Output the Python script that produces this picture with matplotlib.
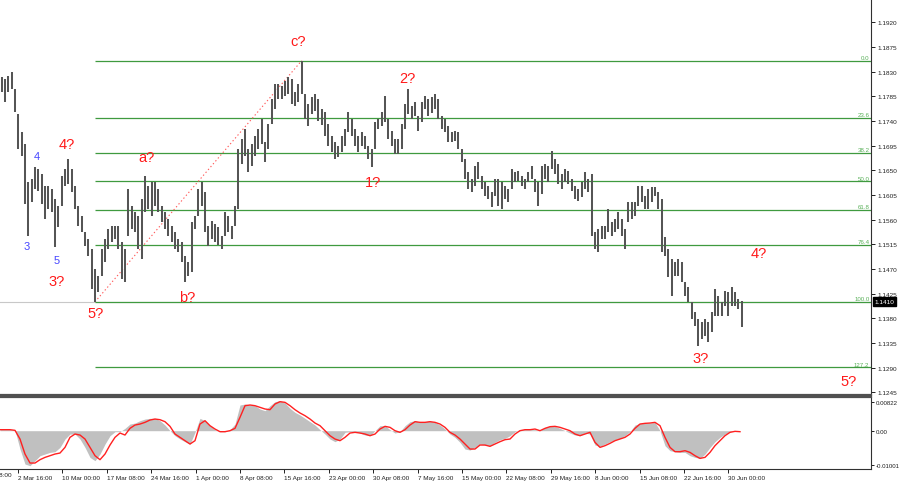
import numpy as np
import matplotlib
matplotlib.use("Agg")
import matplotlib.pyplot as plt
import matplotlib.transforms as mtransforms

plt.rcParams['font.family'] = ['Liberation Sans', 'DejaVu Sans']

# ---------------- data (EURUSD-like H4, aggregated bars) ----------------
highs = [
 1.1820, 1.1817, 1.1822, 1.1829, 1.1798, 1.1753, 1.1720, 1.1698, 1.1629, 1.1634,
 1.1656, 1.1652, 1.1643, 1.1621, 1.1621, 1.1616, 1.1598, 1.1585, 1.1640, 1.1652,
 1.1671, 1.1652, 1.1621, 1.1585, 1.1567, 1.1537, 1.1525, 1.1506, 1.1470, 1.1457,
 1.1506, 1.1525, 1.1543, 1.1548, 1.1548, 1.1548, 1.1519, 1.1506, 1.1616, 1.1585,
 1.1574, 1.1567, 1.1598, 1.1640, 1.1621, 1.1629, 1.1629, 1.1616, 1.1585, 1.1574,
 1.1561, 1.1548, 1.1537, 1.1525, 1.1519, 1.1494, 1.1483, 1.1556, 1.1567, 1.1616,
 1.1629, 1.1610, 1.1548, 1.1558, 1.1552, 1.1547, 1.1530, 1.1574, 1.1567, 1.1548,
 1.1585, 1.1689, 1.1707, 1.1725, 1.1689, 1.1698, 1.1713, 1.1725, 1.1744, 1.1702,
 1.1735, 1.1780, 1.1808, 1.1808, 1.1804, 1.1813, 1.1820, 1.1817, 1.1793, 1.1808,
 1.1850, 1.1789, 1.1771, 1.1784, 1.1789, 1.1780, 1.1762, 1.1756, 1.1735, 1.1713,
 1.1702, 1.1694, 1.1713, 1.1725, 1.1756, 1.1744, 1.1725, 1.1713, 1.1720, 1.1713,
 1.1694, 1.1689, 1.1738, 1.1744, 1.1756, 1.1786, 1.1744, 1.1722, 1.1707, 1.1707,
 1.1735, 1.1771, 1.1798, 1.1767, 1.1775, 1.1749, 1.1775, 1.1786, 1.1780, 1.1784,
 1.1789, 1.1780, 1.1749, 1.1744, 1.1731, 1.1720, 1.1722, 1.1720, 1.1689, 1.1671,
 1.1647, 1.1634, 1.1658, 1.1665, 1.1640, 1.1629, 1.1621, 1.1610, 1.1634, 1.1634,
 1.1629, 1.1621, 1.1616, 1.1652, 1.1647, 1.1649, 1.1640, 1.1634, 1.1647, 1.1658,
 1.1634, 1.1629, 1.1658, 1.1662, 1.1658, 1.1685, 1.1671, 1.1662, 1.1643, 1.1652,
 1.1649, 1.1634, 1.1621, 1.1616, 1.1629, 1.1647, 1.1634, 1.1643, 1.1537, 1.1543,
 1.1548, 1.1548, 1.1579, 1.1556, 1.1561, 1.1574, 1.1561, 1.1543, 1.1592, 1.1592,
 1.1592, 1.1621, 1.1621, 1.1603, 1.1616, 1.1620, 1.1620, 1.1610, 1.1598, 1.1528,
 1.1506, 1.1488, 1.1483, 1.1488, 1.1483, 1.1446, 1.1437, 1.1410, 1.1392, 1.1379,
 1.1373, 1.1379, 1.1373, 1.1392, 1.1434, 1.1421, 1.1410, 1.1430, 1.1428, 1.1437,
 1.1428, 1.1415, 1.1412]

lows = [
 1.1793, 1.1775, 1.1793, 1.1798, 1.1756, 1.1689, 1.1676, 1.1589, 1.1530, 1.1592,
 1.1616, 1.1612, 1.1589, 1.1561, 1.1579, 1.1574, 1.1510, 1.1547, 1.1585, 1.1621,
 1.1625, 1.1610, 1.1579, 1.1548, 1.1537, 1.1512, 1.1494, 1.1434, 1.1410, 1.1428,
 1.1457, 1.1483, 1.1506, 1.1519, 1.1525, 1.1506, 1.1452, 1.1446, 1.1530, 1.1543,
 1.1537, 1.1506, 1.1488, 1.1574, 1.1579, 1.1567, 1.1585, 1.1574, 1.1556, 1.1543,
 1.1530, 1.1519, 1.1506, 1.1501, 1.1483, 1.1446, 1.1457, 1.1464, 1.1543, 1.1567,
 1.1585, 1.1537, 1.1512, 1.1525, 1.1519, 1.1514, 1.1506, 1.1530, 1.1537, 1.1525,
 1.1548, 1.1579, 1.1662, 1.1676, 1.1647, 1.1658, 1.1676, 1.1689, 1.1698, 1.1665,
 1.1689, 1.1735, 1.1762, 1.1780, 1.1780, 1.1786, 1.1789, 1.1771, 1.1767, 1.1775,
 1.1789, 1.1744, 1.1731, 1.1753, 1.1758, 1.1740, 1.1733, 1.1713, 1.1694, 1.1683,
 1.1671, 1.1674, 1.1683, 1.1694, 1.1720, 1.1713, 1.1694, 1.1683, 1.1694, 1.1689,
 1.1671, 1.1656, 1.1689, 1.1725, 1.1731, 1.1738, 1.1707, 1.1694, 1.1680, 1.1680,
 1.1689, 1.1725, 1.1753, 1.1744, 1.1749, 1.1722, 1.1738, 1.1762, 1.1749, 1.1755,
 1.1762, 1.1744, 1.1725, 1.1720, 1.1702, 1.1702, 1.1704, 1.1689, 1.1665, 1.1634,
 1.1616, 1.1610, 1.1621, 1.1634, 1.1616, 1.1603, 1.1598, 1.1583, 1.1603, 1.1585,
 1.1579, 1.1598, 1.1592, 1.1616, 1.1629, 1.1630, 1.1621, 1.1616, 1.1629, 1.1634,
 1.1610, 1.1585, 1.1607, 1.1634, 1.1629, 1.1652, 1.1643, 1.1625, 1.1616, 1.1629,
 1.1625, 1.1612, 1.1598, 1.1594, 1.1601, 1.1616, 1.1610, 1.1530, 1.1506, 1.1501,
 1.1525, 1.1525, 1.1537, 1.1530, 1.1537, 1.1543, 1.1530, 1.1506, 1.1556, 1.1561,
 1.1567, 1.1585, 1.1592, 1.1579, 1.1579, 1.1592, 1.1603, 1.1579, 1.1501, 1.1494,
 1.1455, 1.1421, 1.1457, 1.1457, 1.1446, 1.1421, 1.1410, 1.1379, 1.1366, 1.1330,
 1.1342, 1.1348, 1.1337, 1.1355, 1.1384, 1.1384, 1.1384, 1.1402, 1.1384, 1.1402,
 1.1402, 1.1397, 1.1364]

macd_main = [
 0.00029, 0.00029, 0.00029, 0.00010, -0.00532, -0.00967, -0.01015, -0.00870, -0.00725, -0.00677,
 -0.00629, -0.00609, -0.00484, -0.00242, -0.00097, -0.00097, -0.00242, -0.00484, -0.00774, -0.00870,
 -0.00677, -0.00387, -0.00145, -0.00029, -0.00029, 0.00068, 0.00193, 0.00222, 0.00290, 0.00338,
 0.00358, 0.00358, 0.00290, 0.00164, 0.00000, -0.00145, -0.00242, -0.00319, -0.00387, -0.00048,
 0.00358, 0.00290, 0.00145, 0.00029, -0.00029, -0.00029, 0.00029, 0.00193, 0.00745, 0.00774,
 0.00745, 0.00725, 0.00629, 0.00580, 0.00725, 0.00841, 0.00870, 0.00803, 0.00648, 0.00532,
 0.00454, 0.00358, 0.00261, 0.00164, 0.00029, -0.00097, -0.00242, -0.00319, -0.00242, -0.00048,
 -0.00029, -0.00029, -0.00068, -0.00126, -0.00145, 0.00000, 0.00145, 0.00145, 0.00029, -0.00068,
 -0.00029, 0.00145, 0.00261, 0.00290, 0.00242, 0.00261, 0.00280, 0.00242, 0.00164, 0.00048,
 -0.00097, -0.00193, -0.00338, -0.00532, -0.00561, -0.00484, -0.00387, -0.00416, -0.00435, -0.00338,
 -0.00261, -0.00222, -0.00145, -0.00029, 0.00029, 0.00029, 0.00029, 0.00029, 0.00000, 0.00097,
 0.00126, 0.00126, 0.00068, 0.00000, -0.00068, -0.00126, -0.00145, -0.00068, -0.00097, -0.00416,
 -0.00454, -0.00387, -0.00319, -0.00261, -0.00222, -0.00145, -0.00029, 0.00164, 0.00213, 0.00222,
 0.00222, 0.00242, 0.00000, -0.00435, -0.00580, -0.00609, -0.00629, -0.00629, -0.00725, -0.00774,
 -0.00803, -0.00677, -0.00484, -0.00319, -0.00193, -0.00097, -0.00029, 0.00000, 0.00000]

macd_signal = [
 0.00029, 0.00029, 0.00029, 0.00010, -0.00242, -0.00677, -0.00938, -0.00938, -0.00841, -0.00774,
 -0.00725, -0.00677, -0.00648, -0.00484, -0.00193, -0.00097, -0.00126, -0.00242, -0.00484, -0.00725,
 -0.00841, -0.00677, -0.00416, -0.00193, -0.00068, -0.00126, 0.00068, 0.00164, 0.00193, 0.00242,
 0.00309, 0.00338, 0.00319, 0.00261, 0.00126, -0.00097, -0.00193, -0.00290, -0.00387, -0.00290,
 0.00193, 0.00290, 0.00145, 0.00048, -0.00029, -0.00029, 0.00000, 0.00068, 0.00387, 0.00725,
 0.00745, 0.00725, 0.00677, 0.00629, 0.00609, 0.00774, 0.00841, 0.00822, 0.00725, 0.00609,
 0.00513, 0.00435, 0.00338, 0.00222, 0.00145, 0.00000, -0.00145, -0.00242, -0.00290, -0.00193,
 -0.00068, -0.00048, -0.00068, -0.00097, -0.00145, -0.00097, 0.00048, 0.00126, 0.00097, 0.00000,
 -0.00048, 0.00029, 0.00164, 0.00261, 0.00242, 0.00242, 0.00261, 0.00242, 0.00193, 0.00097,
 -0.00048, -0.00126, -0.00242, -0.00387, -0.00532, -0.00532, -0.00416, -0.00416, -0.00454, -0.00387,
 -0.00319, -0.00261, -0.00242, -0.00097, 0.00000, 0.00029, 0.00029, 0.00048, 0.00000, 0.00068,
 0.00116, 0.00126, 0.00097, 0.00048, 0.00000, -0.00097, -0.00145, -0.00097, -0.00048, -0.00338,
 -0.00484, -0.00435, -0.00367, -0.00290, -0.00242, -0.00193, -0.00097, 0.00068, 0.00193, 0.00213,
 0.00222, 0.00242, 0.00145, -0.00193, -0.00484, -0.00609, -0.00609, -0.00580, -0.00629, -0.00725,
 -0.00803, -0.00774, -0.00629, -0.00435, -0.00290, -0.00145, -0.00048, -0.00019, -0.00029]

time_labels = ['2 Mar 16:00', '10 Mar 00:00', '17 Mar 08:00', '24 Mar 16:00', '1 Apr 00:00',
               '8 Apr 08:00', '15 Apr 16:00', '23 Apr 00:00', '30 Apr 08:00', '7 May 16:00',
               '15 May 00:00', '22 May 08:00', '29 May 16:00', '8 Jun 00:00', '15 Jun 08:00',
               '22 Jun 16:00', '30 Jun 00:00']
first_cut_label = '24 Feb 08:00'

price_ticks = [1.1920, 1.1875, 1.1830, 1.1785, 1.1740, 1.1695, 1.1650, 1.1605, 1.1560,
               1.1515, 1.1470, 1.1425, 1.1380, 1.1335, 1.1290, 1.1245]
macd_ticks = [0.00822, 0.0, -0.01001]
macd_tick_labels = ['0.00822', '0.00', '-0.01001']

fib_levels = [0.0, 23.6, 38.2, 50.0, 61.8, 76.4, 100.0, 127.2]
fib_start_bar = 28     # wave 5? low
fib_end_bar = 90       # wave c? high
current_price = 1.1410

wave_red = [('c?', 88.9, 1.1886), ('2?', 121.6, 1.1818), ('1?', 111.4, 1.1629),
            ('a?', 43.6, 1.1674), ('b?', 55.6, 1.1419), ('4?', 19.6, 1.1698),
            ('3?', 16.6, 1.1448), ('5?', 28.3, 1.1390), ('3?', 209.8, 1.1308),
            ('4?', 227.2, 1.1499), ('5?', 254.2, 1.1266)]
wave_blue = [('4', 10.6, 1.1676), ('3', 7.6, 1.1512), ('5', 16.6, 1.1486)]

# ---------------- figure ----------------
W, H = 900, 485
fig = plt.figure(figsize=(W / 100, H / 100), dpi=100)
fig.patch.set_facecolor('white')

ax = fig.add_axes([0, (H - 396) / H, 871 / W, 396 / H])
axm = fig.add_axes([0, (H - 470) / H, 871 / W, 72 / H])

XL = (-0.5, 260.8)
SMALL = 4.6
small_font = ['Liberation Sans', 'DejaVu Sans']
TXT = '#202020'

# price bars
x_idx = np.arange(len(highs))
ax.axhline(current_price, color='#c8c8c8', lw=0.8, zorder=1)

fib_hi = highs[fib_end_bar]
fib_lo = lows[fib_start_bar]
for lv in fib_levels:
    p = fib_hi - (fib_hi - fib_lo) * lv / 100.0
    ax.hlines(p, fib_start_bar, XL[1], color='#3f9a3f', lw=0.9, zorder=2)
    ax.text(260.3, p + 0.00012, f'{lv:.1f}', color='#58b058', fontsize=4.4,
            ha='right', va='bottom', family=small_font, zorder=3)

ax.plot([fib_start_bar, fib_end_bar], [fib_lo, fib_hi], color='#ff5a5a', lw=0.8,
        ls=(0, (1.2, 2.2)), zorder=3)

ax.vlines(x_idx, lows, highs, color='#555555', lw=1.45, zorder=4)

for t, xi, yi in wave_red:
    ax.text(xi, yi, t, color='#ff1a1a', fontsize=10.5, ha='center', va='center',
            family=small_font, zorder=5)
for t, xi, yi in wave_blue:
    ax.text(xi, yi, t, color='#4646ff', fontsize=8, ha='center', va='center',
            family=small_font, zorder=5)

ax.set_xlim(*XL)
ax.set_ylim(1.12401, 1.19625)
ax.set_xticks([])
ax.yaxis.tick_right()
ax.set_yticks(price_ticks)
ax.set_yticklabels([f'{v:.4f}' for v in price_ticks])
ax.tick_params(axis='y', direction='out', length=3, width=0.7, pad=1.8,
               labelsize=SMALL, colors=TXT)
for lab in ax.get_yticklabels():
    lab.set_fontfamily(small_font)
for s in ['top', 'left']:
    ax.spines[s].set_visible(False)
ax.spines['right'].set_color('#303030')
ax.spines['right'].set_linewidth(0.8)
ax.spines['bottom'].set_color('#505050')
ax.spines['bottom'].set_linewidth(1.6)

# current price box
ax.text(1.004, current_price, f'{current_price:.4f}',
        transform=mtransforms.blended_transform_factory(ax.transAxes, ax.transData),
        color='white', fontsize=SMALL, ha='left', va='center', family=small_font,
        bbox=dict(boxstyle='square,pad=0.3', fc='black', ec='black'), clip_on=False, zorder=10)

# MACD panel
macd_x = np.arange(len(macd_main)) * 1.5 - 0.5
axm.fill_between(macd_x, 0, macd_main, color='#c0c0c0', lw=0, zorder=1)
axm.plot(macd_x, macd_signal, color='#ff2020', lw=1.0, zorder=2)
axm.set_xlim(*XL)
axm.set_ylim(-0.01111, 0.00977)
axm.yaxis.tick_right()
axm.set_yticks(macd_ticks)
axm.set_yticklabels(macd_tick_labels)
axm.tick_params(axis='y', direction='out', length=2.5, width=0.7, pad=1.2,
                labelsize=4.4, colors=TXT)
tick_pos = [4.9 + 13.32 * k for k in range(len(time_labels))]
axm.set_xticks(tick_pos)
axm.set_xticklabels(time_labels, ha='left')
axm.tick_params(axis='x', direction='out', length=3, width=0.7, pad=1.5,
                labelsize=SMALL, colors=TXT)
for lab in axm.get_xticklabels() + axm.get_yticklabels():
    lab.set_fontfamily(small_font)
axm.text(4.9 - 13.32, -0.0119, first_cut_label, fontsize=SMALL, ha='left', va='top',
         family=small_font, color=TXT, clip_on=False)
axm.spines['left'].set_visible(False)
axm.spines['top'].set_color('#505050')
axm.spines['top'].set_linewidth(1.6)
axm.spines['right'].set_color('#303030')
axm.spines['right'].set_linewidth(0.8)
axm.spines['bottom'].set_color('#303030')
axm.spines['bottom'].set_linewidth(0.8)

fig.savefig('out.png', dpi=100, facecolor='white')
